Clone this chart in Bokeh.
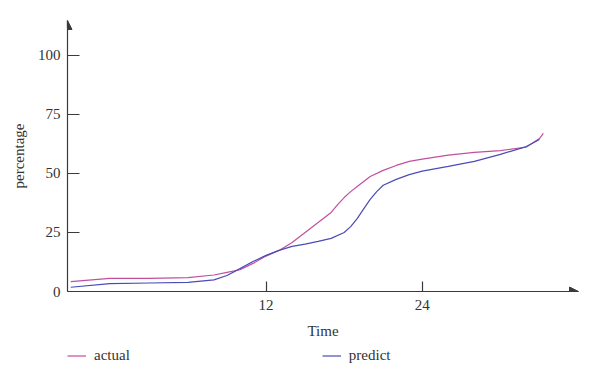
from bokeh.plotting import figure
from bokeh.layouts import column
from bokeh.models import (Range1d, FixedTicker, Legend, LegendItem, Arrow, NormalHead)
from bokeh.embed import file_html
from bokeh.resources import INLINE

# ---- data ----
time_actual = [-3, 0, 3, 6, 8, 9, 10, 11, 12, 13, 14, 15, 16, 17, 17.5, 18,
               18.5, 19, 20, 21, 22, 23, 24, 26, 28, 30, 32, 33, 33.3]
actual = [4.2, 5.6, 5.6, 5.9, 7.0, 8.1, 9.2, 11.9, 15.0, 17.4, 20.8, 25.0, 29.2,
          33.5, 36.8, 39.8, 42.3, 44.5, 48.7, 51.3, 53.4, 55.1, 56.1, 57.8,
          58.9, 59.7, 61.2, 64.8, 67.0]
time_predict = [-3, 0, 3, 6, 8, 9, 10, 11, 12, 13, 14, 15, 16, 17, 18, 18.5,
                19, 19.5, 20, 20.5, 21, 22, 23, 24, 26, 28, 30, 32, 33]
predict = [1.8, 3.3, 3.6, 3.9, 4.9, 6.8, 9.7, 12.7, 15.3, 17.4, 19.1, 20.1, 21.2,
           22.5, 25.0, 27.5, 30.9, 35.0, 39.0, 42.3, 45.0, 47.5, 49.5, 51.0,
           53.0, 55.1, 58.1, 61.4, 64.4]
x_ticks = [12, 24]
y_ticks = [0, 25, 50, 75, 100]
series_names = ["actual", "predict"]

FONT = "Liberation Serif"
AXIS_COLOR = "#3a3a3a"
ACTUAL_COLOR = "#c0509e"
PREDICT_COLOR = "#4b4bb8"

X0, X1 = -3.25, 36.0
Y0, Y1 = 0.0, 114.8

p = figure(width=600, height=343, output_backend="svg", toolbar_location=None,
           x_range=Range1d(X0, X1), y_range=Range1d(Y0, Y1),
           min_border_left=67, min_border_right=22, min_border_top=20,
           min_border_bottom=52, outline_line_color=None)
p.grid.visible = False
p.background_fill_color = "white"
p.border_fill_color = "white"

r1 = p.line(time_actual, actual, line_color=ACTUAL_COLOR, line_width=1.2)
r2 = p.line(time_predict, predict, line_color=PREDICT_COLOR, line_width=1.2)

for ax in (p.xaxis[0], p.yaxis[0]):
    ax.axis_line_color = AXIS_COLOR
    ax.axis_line_width = 1.2
    ax.major_tick_line_color = AXIS_COLOR
    ax.major_tick_line_width = 1.2
    ax.major_tick_out = 0
    ax.minor_tick_line_color = None
    ax.major_label_text_font = FONT
    ax.major_label_text_font_size = "15px"
    ax.major_label_text_color = "#333333"
    ax.axis_label_text_font = FONT
    ax.axis_label_text_font_size = "15px"
    ax.axis_label_text_font_style = "normal"
    ax.axis_label_text_color = "#333333"

p.xaxis.ticker = FixedTicker(ticks=x_ticks)
p.yaxis.ticker = FixedTicker(ticks=y_ticks)
p.xaxis.major_tick_in = 10
p.yaxis.major_tick_in = 12
p.xaxis.major_label_standoff = 8
p.yaxis.major_label_standoff = 7
p.xaxis.axis_label = "Time"
p.yaxis.axis_label = "percentage"
p.xaxis.axis_label_standoff = 10
p.yaxis.axis_label_standoff = 8

# arrow heads at the axis ends
p.add_layout(Arrow(end=NormalHead(size=9, fill_color=AXIS_COLOR, line_color=AXIS_COLOR),
                   x_start=X0, y_start=Y1 - 3, x_end=X0, y_end=Y1,
                   line_color=AXIS_COLOR, line_width=1.2))
p.add_layout(Arrow(end=NormalHead(size=9, fill_color=AXIS_COLOR, line_color=AXIS_COLOR),
                   x_start=X1 - 1, y_start=Y0, x_end=X1, y_end=Y0,
                   line_color=AXIS_COLOR, line_width=1.2))

# legend strip below the chart (same series, drawn outside its visible range)
pl = figure(width=600, height=40, output_backend="svg", toolbar_location=None,
            x_range=Range1d(1000, 1001), y_range=Range1d(1000, 1001),
            x_axis_location=None, y_axis_location=None,
            min_border_left=0, min_border_right=0, min_border_top=0,
            min_border_bottom=0, outline_line_color=None)
pl.grid.visible = False
l1 = pl.line(time_actual, actual, line_color=ACTUAL_COLOR, line_width=1.2)
l2 = pl.line(time_predict, predict, line_color=PREDICT_COLOR, line_width=1.2)
legend = Legend(items=[LegendItem(label=series_names[0], renderers=[l1]),
                       LegendItem(label=series_names[1], renderers=[l2])],
                orientation="horizontal", location=(0, 19),
                spacing=192, glyph_width=19, glyph_height=17, label_height=17,
                label_standoff=8, padding=0, margin=0, border_line_alpha=0,
                background_fill_alpha=0,
                label_text_font=FONT, label_text_font_size="15px",
                label_text_color="#333333")
pl.add_layout(legend)

open("out.html", "w").write(file_html(column(p, pl, spacing=0), INLINE))
